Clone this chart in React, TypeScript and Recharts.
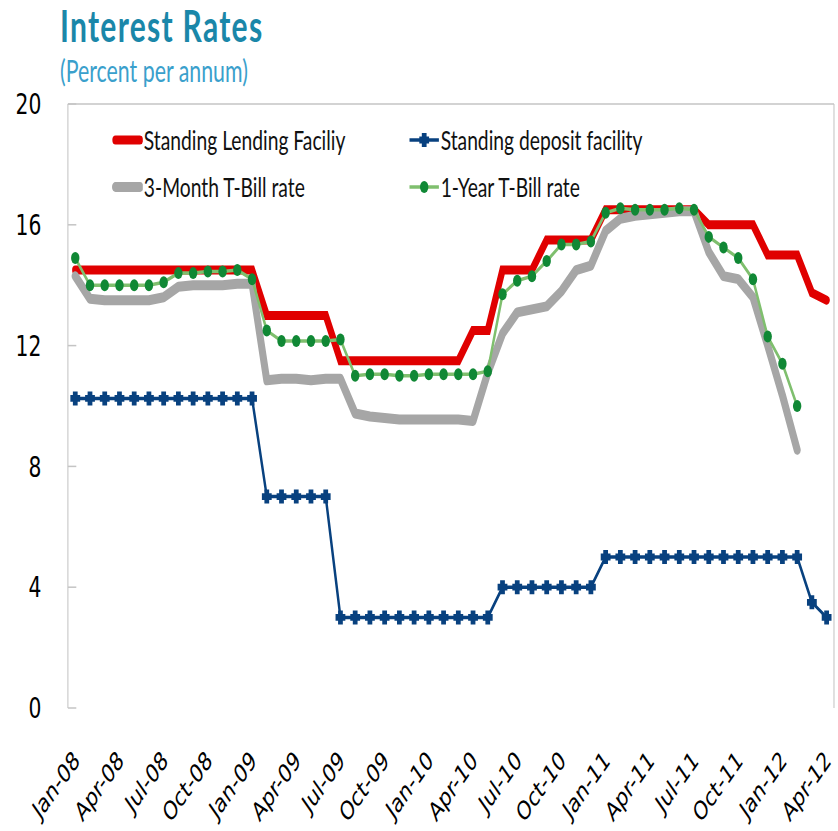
import React from 'react';
import { LineChart, Line, XAxis, YAxis, ReferenceLine, Legend } from 'recharts';

// The reference is horizontally compressed; draw wide, then squeeze on X.
const SQUEEZE = 0.7;
const OUT_W = 838;
const OUT_H = 831;
const IN_W = 1197;

const months = [
  'Jan-08', 'Feb-08', 'Mar-08', 'Apr-08', 'May-08', 'Jun-08', 'Jul-08', 'Aug-08', 'Sep-08', 'Oct-08', 'Nov-08', 'Dec-08',
  'Jan-09', 'Feb-09', 'Mar-09', 'Apr-09', 'May-09', 'Jun-09', 'Jul-09', 'Aug-09', 'Sep-09', 'Oct-09', 'Nov-09', 'Dec-09',
  'Jan-10', 'Feb-10', 'Mar-10', 'Apr-10', 'May-10', 'Jun-10', 'Jul-10', 'Aug-10', 'Sep-10', 'Oct-10', 'Nov-10', 'Dec-10',
  'Jan-11', 'Feb-11', 'Mar-11', 'Apr-11', 'May-11', 'Jun-11', 'Jul-11', 'Aug-11', 'Sep-11', 'Oct-11', 'Nov-11', 'Dec-11',
  'Jan-12', 'Feb-12', 'Mar-12', 'Apr-12',
];

const tickLabels = [
  'Jan-08', 'Apr-08', 'Jul-08', 'Oct-08', 'Jan-09', 'Apr-09', 'Jul-09', 'Oct-09', 'Jan-10',
  'Apr-10', 'Jul-10', 'Oct-10', 'Jan-11', 'Apr-11', 'Jul-11', 'Oct-11', 'Jan-12', 'Apr-12',
];

const yTicks = [0, 4, 8, 12, 16, 20];

const standingLending = [
  14.5, 14.5, 14.5, 14.5, 14.5, 14.5, 14.5, 14.5, 14.5, 14.5, 14.5, 14.5, 14.5,
  13, 13, 13, 13, 13,
  11.5, 11.5, 11.5, 11.5, 11.5, 11.5, 11.5, 11.5, 11.5,
  12.5, 12.5,
  14.5, 14.5, 14.5,
  15.5, 15.5, 15.5, 15.5,
  16.5, 16.5, 16.5, 16.5, 16.5, 16.5, 16.5,
  16, 16, 16, 16,
  15, 15, 15,
  13.75, 13.5,
];

const standingDeposit = [
  10.25, 10.25, 10.25, 10.25, 10.25, 10.25, 10.25, 10.25, 10.25, 10.25, 10.25, 10.25, 10.25,
  7, 7, 7, 7, 7,
  3, 3, 3, 3, 3, 3, 3, 3, 3, 3, 3,
  4, 4, 4, 4, 4, 4, 4,
  5, 5, 5, 5, 5, 5, 5, 5, 5, 5, 5, 5, 5, 5,
  3.5, 3,
];

const tBill3m = [
  14.3, 13.55, 13.5, 13.5, 13.5, 13.5, 13.6, 13.95, 14.0, 14.0, 14.0, 14.05, 14.05,
  10.85, 10.9, 10.9, 10.85, 10.9, 10.9,
  9.75, 9.65, 9.6, 9.55, 9.55, 9.55, 9.55, 9.55, 9.5,
  11.1, 12.4, 13.1, 13.2, 13.3, 13.8, 14.5, 14.65,
  15.8, 16.2, 16.3, 16.35, 16.4, 16.45, 16.45,
  15.1, 14.3, 14.2, 13.6, 12.0, 10.35, 8.55,
  null, null,
];

const tBill1y = [
  14.9, 14.0, 14.0, 14.0, 14.0, 14.0, 14.1, 14.4, 14.4, 14.45, 14.45, 14.5, 14.2,
  12.5, 12.15, 12.15, 12.15, 12.15, 12.2,
  11.0, 11.05, 11.05, 11.0, 11.0, 11.05, 11.05, 11.05, 11.05, 11.15,
  13.7, 14.15, 14.3, 14.8, 15.35, 15.35, 15.45,
  16.4, 16.55, 16.5, 16.5, 16.5, 16.55, 16.5,
  15.6, 15.25, 14.9, 14.2, 12.3, 11.4, 10.0,
  null, null,
];

const COLORS = {
  red: '#e00000',
  blue: '#08417f',
  gray: '#a6a6a6',
  greenLine: '#7fbf6e',
  greenDot: '#108835',
  axis: '#c4c4c4',
  title: '#1a87a9',
  subtitle: '#3aa0cc',
};

const data = months.map((m, i) => ({
  pos: i + 0.5,
  month: m,
  slf: standingLending[i],
  sdf: standingDeposit[i],
  tb3: tBill3m[i],
  tb1: tBill1y[i],
}));

const labelPositions = tickLabels.map((l) => months.indexOf(l) + 0.5);
const boundaryPositions = tickLabels.map((l) => months.indexOf(l));

const AXIS_FONT = '"DejaVu Sans", Verdana, sans-serif';
const TEXT_FONT = 'Lato, "Open Sans", sans-serif';

const PlusDot = (props: any) => {
  const { cx, cy, index } = props;
  if (cx == null || cy == null) return <g key={`p${index}`} />;
  const a = 7;
  const t = 3.4;
  const d = `M${cx - a},${cy - t} H${cx - t} V${cy - a} H${cx + t} V${cy - t} H${cx + a} V${cy + t} H${cx + t} V${cy + a} H${cx - t} V${cy + t} H${cx - a} Z`;
  return <path key={`p${index}`} d={d} fill={COLORS.blue} />;
};

const GreenDot = (props: any) => {
  const { cx, cy, index } = props;
  if (cx == null || cy == null) return <g key={`g${index}`} />;
  return <circle key={`g${index}`} cx={cx} cy={cy} r={6} fill={COLORS.greenDot} />;
};

const XTick = (props: any) => {
  const { x, y, payload } = props;
  const idx = Math.round(payload.value - 0.5);
  const label = months[idx] ?? '';
  return (
    <g transform={`translate(${x + 8},${y + 46}) rotate(-45)`}>
      <text x={0} y={0} textAnchor="end" fontSize={26} fontFamily={AXIS_FONT} fill="#000">
        {label}
      </text>
    </g>
  );
};

const legendItems = [
  { key: 'slf', name: 'Standing Lending Faciliy', col: 0, row: 0 },
  { key: 'sdf', name: 'Standing deposit facility', col: 1, row: 0 },
  { key: 'tb3', name: '3-Month T-Bill rate', col: 0, row: 1 },
  { key: 'tb1', name: '1-Year T-Bill rate', col: 1, row: 1 },
];

const Swatch = ({ k }: { k: string }) => {
  if (k === 'slf')
    return (
      <svg width={44} height={24}>
        <line x1={5} y1={12} x2={40} y2={12} stroke={COLORS.red} strokeWidth={9} strokeLinecap="round" />
      </svg>
    );
  if (k === 'tb3')
    return (
      <svg width={44} height={24}>
        <line x1={5} y1={12} x2={40} y2={12} stroke={COLORS.gray} strokeWidth={10} strokeLinecap="round" />
      </svg>
    );
  if (k === 'sdf')
    return (
      <svg width={44} height={24}>
        <line x1={1} y1={12} x2={43} y2={12} stroke={COLORS.blue} strokeWidth={3.5} />
        <PlusDot cx={22} cy={12} index={0} />
      </svg>
    );
  return (
    <svg width={44} height={24}>
      <line x1={1} y1={12} x2={43} y2={12} stroke={COLORS.greenLine} strokeWidth={3.5} />
      <GreenDot cx={22} cy={12} index={0} />
    </svg>
  );
};

const renderLegend = () => (
  <div style={{ position: 'relative', width: 900, height: 80 }}>
    {legendItems.map((it) => (
      <div
        key={it.key}
        style={{
          position: 'absolute',
          left: it.col * 424,
          top: it.row * 46.7,
          height: 30,
          display: 'flex',
          alignItems: 'center',
          whiteSpace: 'nowrap',
        }}
      >
        <Swatch k={it.key} />
        <span style={{ fontFamily: TEXT_FONT, fontSize: 27.5, color: '#111', marginLeft: 2, lineHeight: '30px' }}>
          {it.name}
        </span>
      </div>
    ))}
  </div>
);

export default function App() {
  return (
    <div
      style={{
        position: 'absolute',
        left: 0,
        top: 0,
        width: OUT_W,
        height: OUT_H,
        overflow: 'hidden',
        background: '#fff',
      }}
    >
      <div
        style={{
          position: 'absolute',
          left: 0,
          top: 0,
          width: IN_W,
          height: OUT_H,
          transform: `scaleX(${SQUEEZE})`,
          transformOrigin: '0 0',
        }}
      >
        <svg width={IN_W} height={100} style={{ position: 'absolute', left: 0, top: 0 }}>
          <text
            x={85.7}
            y={42}
            fontFamily={TEXT_FONT}
            fontWeight={700}
            fontSize={43}
            letterSpacing={1.8}
            fill={COLORS.title}
          >
            Interest Rates
          </text>
          <text x={85.7} y={82} fontFamily={TEXT_FONT} fontSize={30.5} fill={COLORS.subtitle}>
            (Percent per annum)
          </text>
        </svg>
        <div style={{ position: 'absolute', left: 0, top: 0 }}>
          <LineChart
            width={IN_W}
            height={OUT_H}
            data={data}
            margin={{ top: 104, right: 5.6, bottom: 0, left: 0 }}
          >
            <YAxis
              type="number"
              domain={[0, 20]}
              ticks={yTicks}
              interval={0}
              width={97}
              axisLine={{ stroke: COLORS.axis, strokeWidth: 1.5 }}
              tickLine={{ stroke: COLORS.axis, strokeWidth: 1.5 }}
              tickSize={-12}
              tickMargin={50}
              tick={{ fontSize: 29, fontFamily: AXIS_FONT, fill: '#000' }}
            />
            <XAxis
              xAxisId="grid"
              dataKey="pos"
              type="number"
              domain={[0, 52]}
              ticks={boundaryPositions}
              interval={0}
              height={0}
              axisLine={{ stroke: COLORS.axis, strokeWidth: 1.5 }}
              tickLine={{ stroke: COLORS.axis, strokeWidth: 1.2 }}
              tickSize={-8}
              tick={() => <g />}
            />
            <XAxis
              xAxisId="lab"
              dataKey="pos"
              type="number"
              domain={[0, 52]}
              ticks={labelPositions}
              interval={0}
              height={123}
              axisLine={false}
              tickLine={false}
              tick={<XTick />}
            />
            <ReferenceLine y={20} xAxisId="grid" stroke={COLORS.axis} strokeWidth={1.5} />
            <ReferenceLine x={52} xAxisId="grid" stroke={COLORS.axis} strokeWidth={1.5} />
            <Legend
              layout="horizontal"
              verticalAlign="middle"
              align="center"
              wrapperStyle={{ position: 'absolute', left: 159.5, top: 125, width: 900, height: 80 }}
              content={renderLegend}
            />
            <Line
              xAxisId="lab"
              dataKey="slf"
              name="Standing Lending Faciliy"
              stroke={COLORS.red}
              strokeWidth={9}
              strokeLinecap="round"
              dot={false}
              activeDot={false}
              isAnimationActive={false}
            />
            <Line
              xAxisId="lab"
              dataKey="sdf"
              name="Standing deposit facility"
              stroke={COLORS.blue}
              strokeWidth={3.5}
              dot={<PlusDot />}
              activeDot={false}
              isAnimationActive={false}
            />
            <Line
              xAxisId="lab"
              dataKey="tb3"
              name="3-Month T-Bill rate"
              stroke={COLORS.gray}
              strokeWidth={10}
              strokeLinecap="round"
              strokeLinejoin="round"
              dot={false}
              activeDot={false}
              isAnimationActive={false}
            />
            <Line
              xAxisId="lab"
              dataKey="tb1"
              name="1-Year T-Bill rate"
              stroke={COLORS.greenLine}
              strokeWidth={3.5}
              dot={<GreenDot />}
              activeDot={false}
              isAnimationActive={false}
            />
          </LineChart>
        </div>
      </div>
    </div>
  );
}
